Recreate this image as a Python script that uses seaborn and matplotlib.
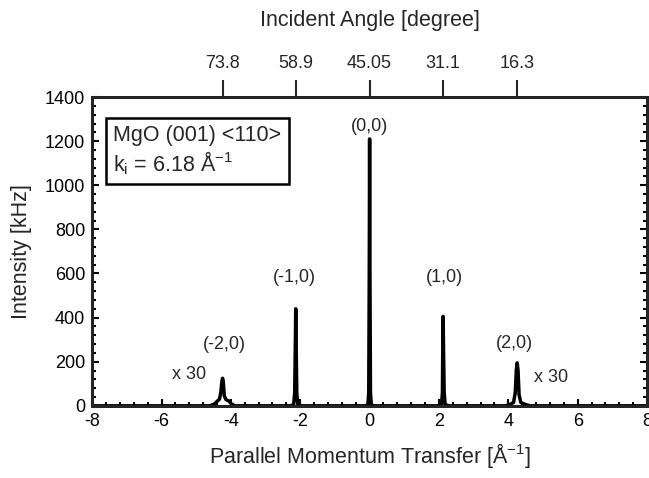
import numpy as np
import matplotlib
matplotlib.use("Agg")
import matplotlib.pyplot as plt
from matplotlib.ticker import MultipleLocator
import seaborn as sns
import pandas as pd

# ---- data ----
q = [-8.0, -4.60, -4.48, -4.40, -4.33, -4.29, -4.26, -4.24, -4.22, -4.19, -4.14, -4.06, -3.98, -3.88,
     -2.30, -2.19, -2.16, -2.14, -2.13, -2.12, -2.10, -2.07, -1.96,
     -0.12, -0.05, -0.025, -0.01, 0.0, 0.01, 0.025, 0.05, 0.12,
     1.96, 2.07, 2.10, 2.11, 2.12, 2.13, 2.15, 2.18, 2.30,
     3.92, 4.06, 4.15, 4.20, 4.23, 4.255, 4.28, 4.31, 4.36, 4.46, 4.62, 8.0]
intensity = [0, 0, 8, 20, 30, 60, 110, 125, 110, 45, 28, 22, 8, 0,
             0, 5, 60, 300, 440, 300, 60, 5, 0,
             0, 5, 60, 600, 1210, 600, 60, 5, 0,
             0, 5, 60, 280, 405, 280, 60, 5, 0,
             0, 8, 15, 60, 160, 195, 160, 50, 15, 8, 0, 0]

peak_labels = ["(-2,0)", "(-1,0)", "(0,0)", "(1,0)", "(2,0)"]
label_x = [-4.18, -2.18, 0.0, 2.15, 4.18]
label_y = [276, 580, 1265, 580, 281]

top_tick_pos = [-4.24, -2.13, 0.0, 2.12, 4.255]
top_tick_labels = ["73.8", "58.9", "45.05", "31.1", "16.3"]

scale_text = "x 30"
scale_x = [-5.22, 5.22]
scale_y = [140, 127]

df = pd.DataFrame({"q": q, "I": intensity})

# ---- style ----
sns.set_style("ticks")
plt.rcParams['font.family'] = ['Liberation Sans', 'DejaVu Sans']
plt.rcParams['axes.unicode_minus'] = False
plt.rcParams['mathtext.fontset'] = 'custom'
plt.rcParams['mathtext.rm'] = 'Liberation Sans'
plt.rcParams['mathtext.it'] = 'Liberation Sans'

fig = plt.figure(figsize=(6.49, 4.78), dpi=100)
ax = fig.add_axes([0.142, 0.151, 0.855, 0.646])

sns.lineplot(data=df, x="q", y="I", sort=False, estimator=None, color="black",
             linewidth=2.5, ax=ax)

ax.set_xlim(-8, 8)
ax.set_ylim(0, 1400)
ax.xaxis.set_major_locator(MultipleLocator(2))
ax.xaxis.set_minor_locator(MultipleLocator(0.4))
ax.yaxis.set_major_locator(MultipleLocator(200))
ax.yaxis.set_minor_locator(MultipleLocator(40))
ax.tick_params(which="both", direction="in", top=False, right=True, width=1.5,
               labelsize=13, colors="black", pad=5)
ax.tick_params(which="major", length=5)
ax.tick_params(which="minor", length=3)
for s in ax.spines.values():
    s.set_linewidth(2)
    s.set_color("black")

ax.set_xlabel("Parallel Momentum Transfer [Å$^{-1}$]", fontsize=15.5, labelpad=8)
ax.set_ylabel("Intensity [kHz]", fontsize=15.5, labelpad=9)

# top axis
ax2 = ax.twiny()
ax2.set_xlim(ax.get_xlim())
ax2.set_xticks(top_tick_pos)
ax2.set_xticklabels(top_tick_labels)
ax2.tick_params(axis="x", direction="out", length=12, width=1.5, labelsize=13, pad=6)
ax2.set_xlabel("Incident Angle [degree]", fontsize=15.5, labelpad=21)
for s in ax2.spines.values():
    s.set_linewidth(2)

# annotations
for t, x, y in zip(peak_labels, label_x, label_y):
    ax.text(x, y, t, ha="center", va="center", fontsize=13)
for x, y in zip(scale_x, scale_y):
    ax.text(x, y, scale_text, ha="center", va="center", fontsize=13)

ax.text(0.038, 0.91, "MgO (001) <110>\nk$_{\\mathrm{i}}$ = 6.18 Å$^{\\mathrm{-1}}$",
        transform=ax.transAxes, ha="left", va="top", fontsize=15.5, linespacing=1.15,
        bbox=dict(boxstyle="square,pad=0.35", facecolor="white", edgecolor="black", linewidth=1.8))

fig.savefig("out.png", dpi=100)
